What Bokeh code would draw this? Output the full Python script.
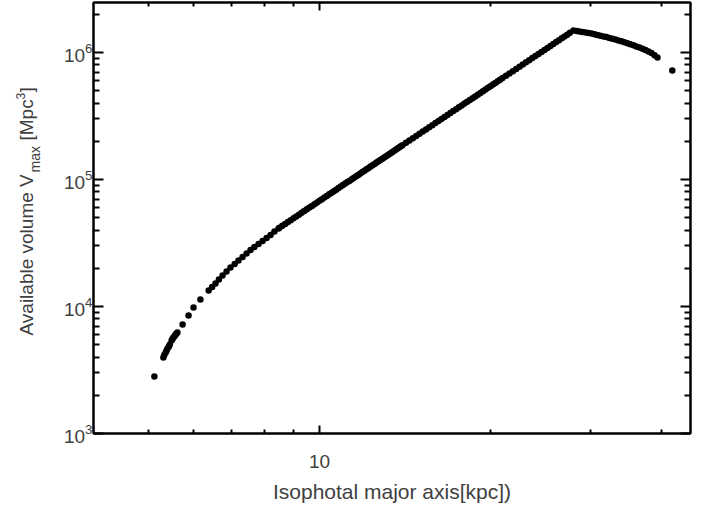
import math
from bokeh.plotting import figure
from bokeh.models import LogAxis, FixedTicker, Range1d
from bokeh.core.properties import value
from bokeh.layouts import row
from bokeh.embed import file_html
from bokeh.resources import INLINE

# ---------------- data ----------------
# isophotal major axis [kpc]
size_kpc = [
    5.12,
    5.31, 5.33, 5.36, 5.38, 5.40, 5.43, 5.45, 5.49, 5.51, 5.53, 5.56, 5.58, 5.60, 5.62,
    5.74, 5.88, 6.00, 6.17, 6.38, 6.47, 6.56, 6.65, 6.75, 6.86, 6.97, 7.09, 7.20,
    7.32, 7.44, 7.56, 7.68, 7.81, 7.94, 8.07, 8.20, 8.33, 8.47,
    8.5, 8.6, 8.7, 8.8, 8.9, 9.0, 9.1, 9.2, 9.3, 9.4, 9.5, 9.6, 9.7, 9.8, 9.9,
    10.0, 10.1, 10.2, 10.3, 10.4, 10.5, 10.6, 10.7, 10.8, 10.9,
    11.0, 11.1, 11.2, 11.3, 11.4, 11.5, 11.6, 11.7, 11.8, 11.9,
    12.0, 12.1, 12.2, 12.3, 12.4, 12.5, 12.6, 12.7, 12.8, 12.9,
    13.0, 13.1, 13.2, 13.3, 13.4, 13.5, 13.6, 13.7, 13.8, 13.9, 14.0,
    14.2, 14.4, 14.6, 14.8, 15.0, 15.2, 15.4, 15.6, 15.8, 16.0, 16.2, 16.4, 16.6,
    16.8, 17.0, 17.2, 17.4, 17.6, 17.8, 18.0, 18.2, 18.4, 18.6, 18.8, 19.0, 19.2,
    19.4, 19.6, 19.8, 20.0, 20.2, 20.4, 20.6, 20.8, 21.0,
    21.3, 21.6, 21.9, 22.2, 22.5, 22.8, 23.1, 23.4, 23.7, 24.0, 24.3, 24.6, 24.9,
    25.2, 25.5, 25.8, 26.1, 26.4, 26.7, 27.0, 27.3, 27.6, 28.0,
    28.35, 28.69, 29.04, 29.40, 29.76, 30.12, 30.49, 30.85, 31.23, 31.62, 32.00,
    32.39, 32.79, 33.19, 33.60, 34.01, 34.43, 34.85, 35.27, 35.71, 36.14, 36.59,
    37.04, 37.49, 37.95, 38.41, 38.89, 39.36,
    41.8,
]
# available volume V_max [Mpc^3]
vmax_mpc3 = [
    2810,
    3960, 4150, 4345, 4510, 4670, 4850, 5020, 5400, 5550, 5700, 5870, 6030, 6140, 6240,
    7210, 8490, 9820, 11350, 13370, 14240, 15170, 16320, 17540, 18860, 20280, 21610, 23030,
    24540, 26150, 27860, 29420, 31060, 32790, 34620, 36560, 38960, 41100,
    41700, 43190, 44710, 46270, 47870, 49500, 51170, 52870, 54620, 56400, 58210, 60070, 61970, 63910, 65880,
    67900, 69960, 72050, 74200, 76380, 78600, 80870, 83180, 85530, 87930,
    90370, 92860, 95390, 97970, 100600, 103270, 105980, 108750, 111550, 114420,
    117330, 120290, 123290, 126350, 129460, 132620, 135830, 139090, 142400, 145760,
    149180, 152650, 156170, 159740, 163370, 167060, 170800, 174600, 178450, 182350, 186320,
    194420, 202750, 211310, 220120, 229160, 238450, 247990, 257770, 267820, 278120, 288680, 299500, 310600,
    321950, 333590, 345500, 357700, 370180, 382940, 396000, 409340, 422980, 436930, 451170, 465730, 480590,
    495760, 511250, 527070, 543200, 559660, 576450, 593570, 611020, 628820,
    656160, 684270, 713190, 742890, 773420, 804780, 836960, 869990, 903890, 938650, 974290, 1010820, 1048250,
    1086600, 1125880, 1166080, 1207240, 1249340, 1292420, 1336480, 1381520, 1427570, 1490540,
    1479000, 1466000, 1453000, 1440000, 1424000, 1409000, 1391000, 1374000, 1356000, 1339000, 1322000,
    1303000, 1284000, 1266000, 1245000, 1225000, 1205000, 1184000, 1163000, 1140000, 1117000, 1095000,
    1071000, 1046000, 1020000, 993000, 951000, 914000,
    721000,
]

x_major_ticks = [10]
x_minor_ticks = [5, 6, 7, 8, 9, 20, 30, 40]
x_tick_labels = {10: "10"}
y_major_ticks = [1e3, 1e4, 1e5, 1e6]
y_minor_ticks = [m * 10 ** e for e in (3, 4, 5) for m in range(2, 10)] + [2e6]

x_title = "Isophotal major axis[kpc])"
y_title_parts = ["Available volume V", "max", "[Mpc", "3", "]"]

TEXT_COLOR = "#404040"
FONT = "Liberation Sans"
TW = 46            # width of the strip that carries the y title
TOP, FH, BOT = 2, 431, 75   # border/frame heights shared by both panels

# ---------------- y-title strip ----------------
pt = figure(
    frame_width=TW, frame_height=FH,
    min_border_left=0, min_border_right=0, min_border_top=TOP, min_border_bottom=BOT,
    x_range=Range1d(0, TW), y_range=Range1d(TOP + FH, TOP),
    x_axis_type=None, y_axis_type=None,
    output_backend="svg", toolbar_location=None,
    outline_line_color=None, background_fill_color="white", border_fill_color="white",
)
# (anchor x, start y, font size) for each piece, in page pixels
part_layout = [(26, 335, "19px"), (34, 172, "14px"), (26, 140, "19px"),
               (20, 99, "12px"), (26, 92, "19px")]
for txt, (bx, by, fs) in zip(y_title_parts, part_layout):
    pt.text(x=[bx], y=[by], text=[txt], angle=math.pi / 2,
            text_font=value(FONT), text_font_size=value(fs), text_color=TEXT_COLOR,
            text_align="left", text_baseline="alphabetic")

# ---------------- main figure ----------------
p = figure(
    x_axis_type="log", y_axis_type="log",
    x_range=(4.0, 45.0), y_range=(1e3, 2.476e6),
    frame_width=597, frame_height=FH,
    min_border_left=93 - TW, min_border_right=15, min_border_top=TOP, min_border_bottom=BOT,
    output_backend="svg", toolbar_location=None,
    background_fill_color="white", border_fill_color="white",
)
p.grid.visible = False
p.outline_line_color = "black"
p.outline_line_width = 2

p.scatter(size_kpc, vmax_mpc3, marker="circle", size=6.5,
          fill_color="black", line_color="black", line_width=0)


def style_axis(ax, ticks, minor, maj_len, min_len):
    ax.ticker = FixedTicker(ticks=ticks, minor_ticks=minor)
    ax.axis_line_color = "black"
    ax.axis_line_width = 2
    ax.major_tick_line_color = "black"
    ax.minor_tick_line_color = "black"
    ax.major_tick_line_width = 2
    ax.minor_tick_line_width = 2
    ax.major_tick_in = maj_len
    ax.major_tick_out = 0
    ax.minor_tick_in = min_len
    ax.minor_tick_out = 0
    ax.major_label_text_font = FONT
    ax.major_label_text_color = TEXT_COLOR
    ax.major_label_text_font_size = "19px"


xb = p.below[0]
yl = p.left[0]
style_axis(xb, x_major_ticks, x_minor_ticks, 8, 4)
xb.major_label_overrides = x_tick_labels
xb.major_label_standoff = 21
xb.axis_label = x_title
xb.axis_label_text_font = FONT
xb.axis_label_text_font_style = "normal"
xb.axis_label_text_color = TEXT_COLOR
xb.axis_label_text_font_size = "21px"
xb.axis_label_standoff = 9

style_axis(yl, y_major_ticks, y_minor_ticks, 10, 6)
yl.major_label_standoff = 1

# mirrored axes (ticks only)
yr = LogAxis()
style_axis(yr, y_major_ticks, y_minor_ticks, 10, 6)
yr.major_label_text_font_size = "1px"
yr.major_label_text_alpha = 0
yr.major_label_standoff = 0
p.add_layout(yr, "right")

xt = LogAxis()
style_axis(xt, x_major_ticks, x_minor_ticks, 8, 4)
xt.major_label_text_font_size = "1px"
xt.major_label_text_alpha = 0
xt.major_label_standoff = 0
p.add_layout(xt, "above")

layout = row(pt, p, spacing=0)
open("out.html", "w").write(file_html(layout, INLINE))
